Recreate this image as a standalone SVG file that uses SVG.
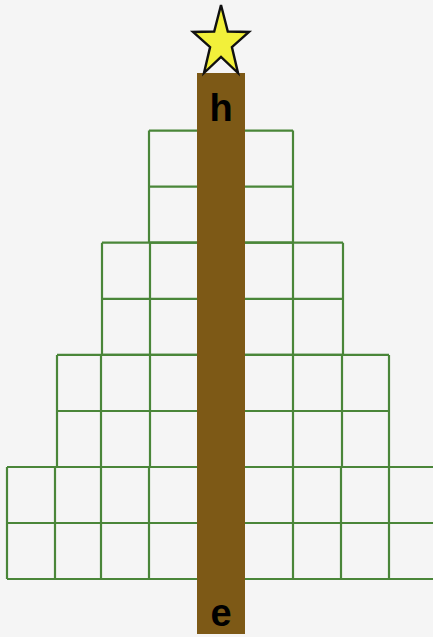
<svg xmlns="http://www.w3.org/2000/svg" width="433" height="637" viewBox="0 0 433 637">
  <style>
    .grid { fill: none; stroke: #4a8639; stroke-width: 2.2; }
    .trunk { fill: #7d5916; }
    .lbl { font-family: "Liberation Sans", Arial, sans-serif; font-weight: bold; font-size: 38px; fill: #000; text-anchor: middle; }
    .star { fill: #f2f03a; stroke: #111; stroke-width: 2.4; stroke-linejoin: miter; }
  </style>
  <rect x="0" y="0" width="433" height="637" fill="#f5f5f5"/>
  <g id="tree-grid" class="grid">
    <g id="tier1">
      <path d="M149 130.6H293M149 186.6H293M149 242.7H293M149 130.6V242.7M293 130.6V242.7"/>
    </g>
    <g id="tier2">
      <path d="M102 242.7H343M102 298.8H343M102 354.9H343M102 242.7V354.9M150 242.7V354.9M293 242.7V354.9M343 242.7V354.9"/>
    </g>
    <g id="tier3">
      <path d="M57 354.9H389M57 411H389M57 467H389M57 354.9V467M101 354.9V467M150 354.9V467M293 354.9V467M342 354.9V467M389 354.9V467"/>
    </g>
    <g id="tier4">
      <path d="M7 467H440M7 523H440M7 579H440M7 467V579M55 467V579M101 467V579M149 467V579M293 467V579M341 467V579M389 467V579M437 467V579"/>
    </g>
  </g>
  <g id="trunk">
    <rect class="trunk" x="197" y="73" width="48" height="561"/>
  </g>
  <g id="star">
    <polygon class="star" points="221,5 227.8,31.5 249,32 231.9,47.1 238,73 221,57 204,73 210.1,47.1 193,32 214.2,31.5"/>
  </g>
  <g id="label-h">
    <text class="lbl" x="221" y="121">h</text>
  </g>
  <g id="label-e">
    <text class="lbl" x="221" y="626">e</text>
  </g>
</svg>
